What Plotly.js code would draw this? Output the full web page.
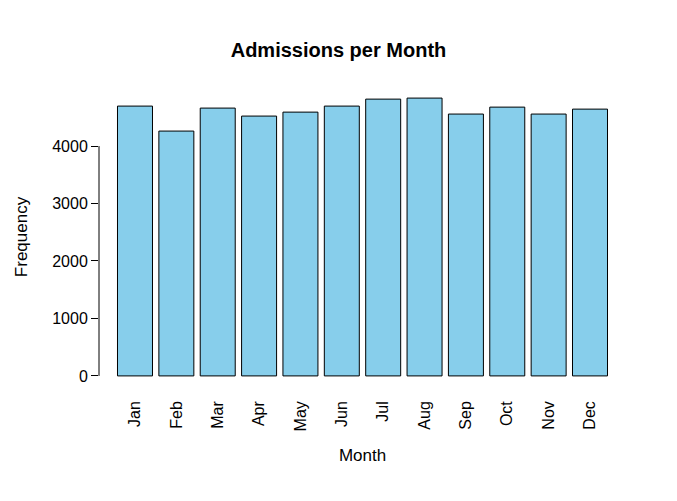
<!DOCTYPE html>
<html>
<head>
<script src="https://cdn.plot.ly/plotly-3.0.1.min.js"></script>
<style>body{margin:0;background:#fff}</style>
</head>
<body>
<div id="plot" style="width:677px;height:501px"></div>
<script>
var months = ['Jan', 'Feb', 'Mar', 'Apr', 'May', 'Jun', 'Jul', 'Aug', 'Sep', 'Oct', 'Nov', 'Dec'];
var admissions = [4696, 4261, 4661, 4522, 4591, 4696, 4817, 4835, 4557, 4678, 4557, 4643];
var yTicks = [0, 1000, 2000, 3000, 4000];

var trace = {
    x: months,
    y: admissions,
    type: 'bar',
    width: 0.846,
    marker: { color: '#87CEEB', line: { color: '#000', width: 1 } },
    hoverinfo: 'none'
};

var layout = {
    width: 677,
    height: 501,
    margin: { l: 99, r: 51, t: 87, b: 114 },
    paper_bgcolor: '#fff',
    plot_bgcolor: '#fff',
    font: { family: 'Liberation Sans, Arial, sans-serif', size: 16, color: '#000' },
    title: { text: '<b>Admissions per Month</b>', x: 0.5, xanchor: 'center', y: 0.915, font: { size: 20 } },
    showlegend: false,
    xaxis: {
        range: [-0.87, 11.87],
        showline: false, showgrid: false, zeroline: false,
        ticks: '', tickangle: -90, ticklabelstandoff: 10,
        title: { text: 'Month', standoff: 18, font: { size: 17 } }
    },
    yaxis: {
        range: [-193, 5028],
        tickvals: yTicks,
        ticks: 'outside', ticklen: 7, tickcolor: '#000',
        showline: false, showgrid: false, zeroline: false,
        title: { text: 'Frequency', standoff: 20, font: { size: 17 } }
    },
    shapes: [{
        type: 'line', xref: 'paper', yref: 'y',
        x0: 0, x1: 0, y0: 0, y1: 4000,
        line: { color: '#000', width: 1 }
    }]
};

Plotly.newPlot('plot', [trace], layout, { staticPlot: true });
</script>
</body>
</html>
